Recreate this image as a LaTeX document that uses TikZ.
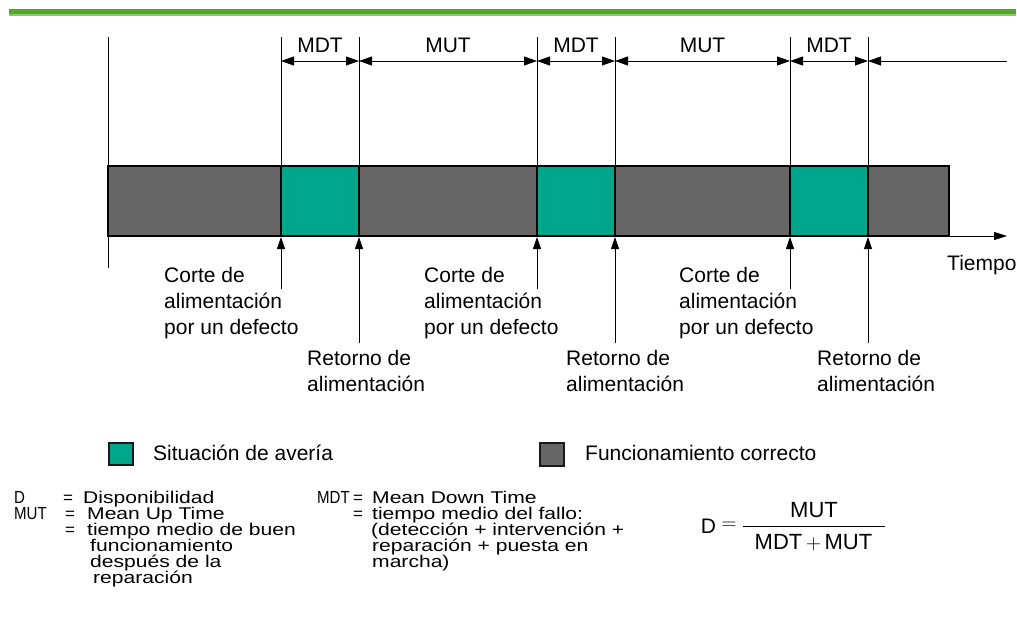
\documentclass[tikz,border=0pt]{standalone}
\usepackage{fontspec}
\setmainfont{Liberation Sans}
\newfontfamily\widefont[FakeStretch=1.24]{Liberation Sans}
\newfontfamily\narrowfont[FakeStretch=0.86]{Liberation Sans}
\usetikzlibrary{arrows.meta}
\definecolor{tealc}{HTML}{00A68C}
\definecolor{grayc}{HTML}{666666}
\definecolor{greenA}{HTML}{4EAA28}
\definecolor{greenB}{HTML}{8CC86E}
\tikzset{
  big/.style={font=\fontsize{21}{26}\selectfont, inner sep=0pt},
  lbl/.style={big, align=left, anchor=north west},
  defn/.style={inner sep=0pt, anchor=base west, text height=12pt, text depth=3.5pt},
  small/.style={defn, font=\fontsize{17.5}{17.5}\selectfont\narrowfont},
  eqs/.style={defn, font=\fontsize{17}{17}\selectfont},
  wide/.style={defn, font=\fontsize{17}{17}\selectfont\widefont},
  dimarrow/.style={{Triangle[length=13pt,width=9pt]}-{Triangle[length=13pt,width=9pt]}, line width=0.8pt},
  uparrow/.style={-{Triangle[length=12pt,width=8pt]}, line width=0.8pt},
  seg/.style={draw=black, line width=2pt},
  thin/.style={line width=0.8pt}
}
\begin{document}
\begin{tikzpicture}[x=1pt,y=-1pt]
\useasboundingbox (0,0) rectangle (1017,621);
% top green band
\fill[greenA] (9,9) rectangle (1016,14);
\fill[greenB] (9,14) rectangle (1016,15.5);

% vertical reference lines
\foreach \x/\n in {281/v1,359/v2,537/v3,615/v4,790/v5,868/v6} {
  \coordinate (\n t) at (\x,37);
  \coordinate (\n d) at (\x,61);
  \coordinate (\n b) at (\x,166);
  \coordinate (\n u) at (\x,237);
}
\coordinate (dend) at (1007,61);
\foreach \n in {v1,v2,v3,v4,v5,v6} { \draw[thin] (\n t) -- (\n b); }
\coordinate (axT) at (108,37);
\coordinate (axB) at (108,268);
\draw[thin] (axT) -- (axB);

% bar segments
\draw[seg, fill=grayc] (108,166) rectangle (281,236);
\draw[seg, fill=tealc] (281,166) rectangle (359,236);
\draw[seg, fill=grayc] (359,166) rectangle (537,236);
\draw[seg, fill=tealc] (537,166) rectangle (615,236);
\draw[seg, fill=grayc] (615,166) rectangle (790,236);
\draw[seg, fill=tealc] (790,166) rectangle (868,236);
\draw[seg, fill=grayc] (868,166) rectangle (949,236);

% time axis
\coordinate (barend) at (949,236);
\coordinate (tend) at (1007,236);
\draw[thin, -{Triangle[length=13pt,width=8pt]}] (barend) -- (tend);
\node[big, anchor=base west] (tiempo) at (947,270.5) {Tiempo};

% dimension arrows
\draw[dimarrow] (v1d) -- (v2d);
\draw[dimarrow] (v2d) -- (v3d);
\draw[dimarrow] (v3d) -- (v4d);
\draw[dimarrow] (v4d) -- (v5d);
\draw[dimarrow] (v5d) -- (v6d);
\draw[thin, {Triangle[length=13pt,width=9pt]}-] (v6d) -- (dend);
\node[big] (m1) at (320,45) {MDT};
\node[big] (m2) at (448,45) {MUT};
\node[big] (m3) at (576,45) {MDT};
\node[big] (m4) at (702.5,45) {MUT};
\node[big] (m5) at (829,45) {MDT};

% up arrows
\coordinate (c1) at (281,289);
\coordinate (r1) at (359,343);
\coordinate (c2) at (537,289);
\coordinate (r2) at (615,343);
\coordinate (c3) at (790,289);
\coordinate (r3) at (868,343);
\draw[uparrow] (c1) -- (v1u);
\draw[uparrow] (r1) -- (v2u);
\draw[uparrow] (c2) -- (v3u);
\draw[uparrow] (r2) -- (v4u);
\draw[uparrow] (c3) -- (v5u);
\draw[uparrow] (r3) -- (v6u);

\node[lbl] (ct1) at (164,267.5) {Corte de\\alimentación\\por un defecto};
\node[lbl] (ct2) at (424,267.5) {Corte de\\alimentación\\por un defecto};
\node[lbl] (ct3) at (679,267.5) {Corte de\\alimentación\\por un defecto};
\node[lbl] (rt1) at (307,350.5) {Retorno de\\alimentación};
\node[lbl] (rt2) at (566,350.5) {Retorno de\\alimentación};
\node[lbl] (rt3) at (817,350.5) {Retorno de\\alimentación};

% legend
\draw[line width=2pt, draw=black!90, fill=tealc] (109,443) rectangle (133,465);
\node[big, anchor=base west] (lg1) at (153,460.5) {Situación de avería};
\draw[line width=2pt, draw=black!90, fill=grayc] (540,443) rectangle (564,466);
\node[big, anchor=base west] (lg2) at (585,460.5) {Funcionamiento correcto};

% definitions, left block
\node[small] (dD) at (14,503) {D};
\node[eqs] (dDe) at (63,503) {=};
\node[wide] (dDt) at (83,503) {Disponibilidad};
\node[small] (dM) at (14,519) {MUT};
\node[eqs] (dMe) at (65,519) {=};
\node[wide] (dMt) at (87,519) {Mean Up Time};
\node[eqs] (dTe) at (65,535) {=};
\node[wide] (dTt) at (87,535) {tiempo medio de buen};
\node[wide] (dF) at (90,551) {funcionamiento};
\node[wide] (dP) at (90,567) {después de la};
\node[wide] (dR) at (93,583) {reparación};

% definitions, middle block
\node[small] (eM) at (317,503) {MDT};
\node[eqs] (eMe) at (353,503) {=};
\node[wide] (eMt) at (372,503) {Mean Down Time};
\node[eqs] (eTe) at (353,519) {=};
\node[wide] (eTt) at (372,519) {tiempo medio del fallo:};
\node[wide] (eL3) at (371,535) {(detección + intervención +};
\node[wide] (eL4) at (372,551) {reparación + puesta en};
\node[wide] (eL5) at (372,567) {marcha)};

% formula
\node[big] (fD) at (708.5,526) {D};
\node[big] (fEq) at (729,526) {$=$};
\node[big, font=\fontsize{22}{26}\selectfont] (fNum) at (814,510) {MUT};
\node[big, font=\fontsize{22}{26}\selectfont] (fDen) at (813.5,542.5) {MDT\,$+$\,MUT};
\coordinate (fbL) at (743,526);
\coordinate (fbR) at (885,526);
\draw[line width=1pt] (fbL) -- (fbR);
\end{tikzpicture}
\end{document}
